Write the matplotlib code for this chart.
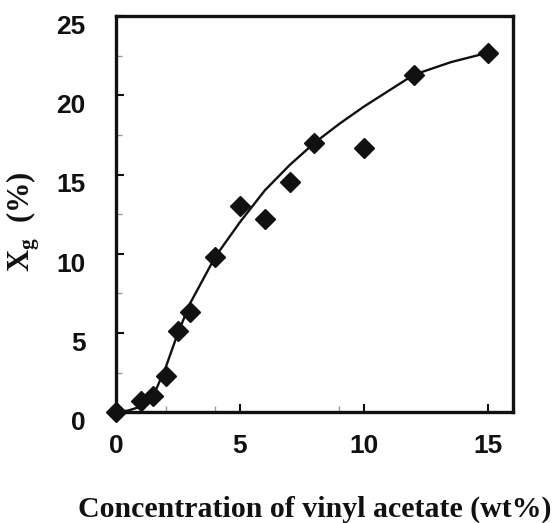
import numpy as np
import matplotlib.pyplot as plt
from matplotlib.ticker import MultipleLocator, FixedLocator
import matplotlib.transforms as mtransforms

plt.rcParams['mathtext.fontset'] = 'custom'
plt.rcParams['mathtext.rm'] = 'Liberation Serif'
plt.rcParams['mathtext.bf'] = 'Liberation Serif:bold'

# measured points
conc = [0, 1, 1.5, 2, 2.5, 3, 4, 5, 6, 7, 8, 10, 12, 15]
xg = [0.0, 0.7, 1.0, 2.3, 5.1, 6.3, 9.8, 13.0, 12.2, 14.5, 17.0, 16.7, 21.3, 22.7]

# fitted curve
curve_x = [0, 0.5, 1.0, 1.5, 2.0, 2.5, 3.0, 4.0, 5.0, 6.0, 7.0, 8.0, 9.0, 10.0, 11.0, 12.0, 13.5, 15.0]
curve_y = [0, 0.1, 0.35, 1.0, 2.8, 5.0, 6.9, 9.8, 12.0, 14.0, 15.6, 17.0, 18.2, 19.3, 20.3, 21.3, 22.1, 22.7]

x_major = [0, 5, 10, 15]
x_minor = [1, 2, 4, 9]

fig = plt.figure(figsize=(5.6, 5.23), dpi=100)
ax = fig.add_axes([0.207, 0.212, 0.709, 0.757])

ax.plot(curve_x, curve_y, color='#111111', lw=1.7, zorder=2)
ax.plot(conc, xg, linestyle='none', marker='D', markersize=10.5,
        color='#111111', zorder=3, clip_on=False)

ax.set_xlim(0, 16)
ax.set_ylim(0, 25)
ax.xaxis.set_major_locator(FixedLocator(x_major))
ax.xaxis.set_minor_locator(FixedLocator(x_minor))
ax.yaxis.set_major_locator(MultipleLocator(5))
ax.yaxis.set_minor_locator(MultipleLocator(2.5))

for s in ax.spines.values():
    s.set_linewidth(2.4)
    s.set_color('#111111')

ax.tick_params(which='major', direction='in', length=6, width=1.5, color='#111111')
ax.tick_params(which='minor', direction='in', length=4, width=1.0, color='#999999')
ax.tick_params(axis='x', which='major', pad=16)
ax.tick_params(axis='y', which='major', pad=22)
ax.tick_params(top=False, right=False)

for lab in ax.get_xticklabels() + ax.get_yticklabels():
    lab.set_fontfamily('Liberation Sans')
    lab.set_fontweight('bold')
    lab.set_fontsize(19)
    lab.set_color('#111111')

# y tick labels sit slightly below their ticks in the original
offset = mtransforms.ScaledTranslation(0, -6 / 72, fig.dpi_scale_trans)
for lab in ax.get_yticklabels():
    lab.set_transform(lab.get_transform() + offset)

ax.set_xlabel('Concentration of vinyl acetate (wt%)', fontsize=21.5,
              fontweight='bold', family='Liberation Serif', color='#111111')
ax.xaxis.set_label_coords(0.5, -0.212)
ax.set_ylabel(r'X$_\mathbf{g}$  (%)', fontsize=22, fontweight='bold',
              family='Liberation Serif', color='#111111')
ax.yaxis.set_label_coords(-0.185, 0.48)

fig.savefig('out.png', dpi=100)
